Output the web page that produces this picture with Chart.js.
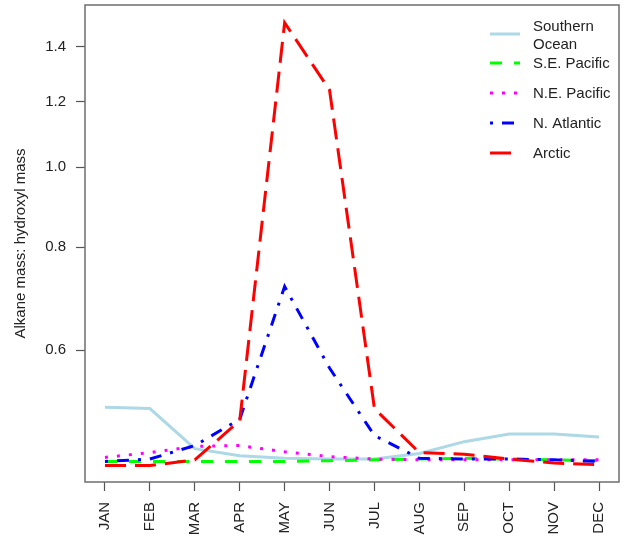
<!DOCTYPE html>
<html>
<head>
<meta charset="utf-8">
<script src="https://cdn.jsdelivr.net/npm/chart.js@4/dist/chart.umd.min.js"></script>
<style>
  body { margin: 0; background: #fff; }
  canvas { display: block; }
</style>
</head>
<body>
<canvas id="chart" width="624" height="539"></canvas>
<script>
var months = ["JAN", "FEB", "MAR", "APR", "MAY", "JUN", "JUL", "AUG", "SEP", "OCT", "NOV", "DEC"];
var southernOcean = [0.512, 0.510, 0.456, 0.447, 0.444, 0.443, 0.443, 0.450, 0.465, 0.475, 0.475, 0.471];
var sePacific = [0.440, 0.440, 0.440, 0.440, 0.440, 0.441, 0.442, 0.443, 0.444, 0.443, 0.442, 0.441];
var nePacific = [0.445, 0.451, 0.459, 0.460, 0.452, 0.446, 0.443, 0.442, 0.442, 0.442, 0.442, 0.442];
var nAtlantic = [0.440, 0.443, 0.460, 0.495, 0.717, 0.571, 0.473, 0.444, 0.443, 0.443, 0.442, 0.440];
var arctic = [0.435, 0.435, 0.442, 0.493, 1.497, 1.241, 0.510, 0.451, 0.449, 0.443, 0.438, 0.436];
var yTicks = [0.6, 0.8, 1.0, 1.2, 1.4];

var FONT = "'Liberation Sans', Arial, sans-serif";

function pts(arr) {
  return arr.map(function (v, i) { return { x: i, y: v }; });
}

// legend entries: label lines, colour, dash
var series = [
  { label: ["Southern", "Ocean"], data: southernOcean, color: "#add8e6", dash: [] },
  { label: ["S.E. Pacific"], data: sePacific, color: "#00ff00", dash: [12, 12] },
  { label: ["N.E. Pacific"], data: nePacific, color: "#ff00ff", dash: [3, 9] },
  { label: ["N. Atlantic"], data: nAtlantic, color: "#0000ff", dash: [3, 9, 12, 9] },
  { label: ["Arctic"], data: arctic, color: "#ff0000", dash: [21, 9] }
];

function noPad(scale) {
  scale.paddingTop = 0;
  scale.paddingBottom = 0;
  scale.paddingLeft = 0;
  scale.paddingRight = 0;
}

var boxPlugin = {
  id: "box",
  afterDraw: function (chart) {
    var ctx = chart.ctx, a = chart.chartArea;
    ctx.save();
    ctx.strokeStyle = "#6e6e6e";
    ctx.lineWidth = 1.5;
    ctx.setLineDash([]);
    ctx.strokeRect(a.left, a.top, a.right - a.left, a.bottom - a.top);

    // legend in top-right corner
    var rows = [34, 63, 93, 123, 153];
    ctx.font = "15px " + FONT;
    ctx.textBaseline = "middle";
    ctx.fillStyle = "#222";
    series.forEach(function (s, i) {
      var y = rows[i];
      ctx.strokeStyle = s.color;
      ctx.lineWidth = 3;
      ctx.lineCap = "butt";
      ctx.setLineDash(s.dash);
      ctx.beginPath();
      ctx.moveTo(490, y);
      ctx.lineTo(520, y);
      ctx.stroke();
      if (s.label.length === 2) {
        ctx.fillText(s.label[0], 533, y - 7);
        ctx.fillText(s.label[1], 533, y + 11);
      } else {
        ctx.fillText(s.label[0], 533, y + 1);
      }
    });
    ctx.restore();
  }
};

new Chart(document.getElementById("chart"), {
  type: "line",
  data: {
    datasets: series.map(function (s, i) {
      return {
        label: s.label.join(" "),
        data: pts(s.data),
        borderColor: s.color,
        borderWidth: 3,
        borderDash: s.dash,
        borderCapStyle: "butt",
        pointRadius: 0,
        tension: 0,
        fill: false,
        order: series.length - i
      };
    })
  },
  options: {
    responsive: false,
    animation: false,
    layout: { padding: { top: 5, right: 5, left: 0, bottom: 0 } },
    plugins: { legend: { display: false }, tooltip: { enabled: false } },
    scales: {
      x: {
        type: "linear",
        min: -0.445,
        max: 11.445,
        afterBuildTicks: function (scale) {
          scale.ticks = months.map(function (m, i) { return { value: i }; });
        },
        afterFit: function (scale) { scale.height = 57; noPad(scale); },
        border: { display: false },
        grid: { drawOnChartArea: false, drawTicks: true, tickLength: 9, tickColor: "#555", tickWidth: 1.2 },
        ticks: {
          autoSkip: false,
          minRotation: 90,
          maxRotation: 90,
          padding: 11,
          color: "#222",
          font: { family: FONT, size: 15 },
          callback: function (v) { return months[v]; }
        }
      },
      y: {
        type: "logarithmic",
        min: 0.4155,
        max: 1.573,
        afterBuildTicks: function (scale) {
          scale.ticks = yTicks.map(function (v) { return { value: v }; });
        },
        afterFit: function (scale) { scale.width = 85; noPad(scale); },
        border: { display: false },
        grid: { drawOnChartArea: false, drawTicks: true, tickLength: 9, tickColor: "#555", tickWidth: 1.2 },
        ticks: {
          padding: 10,
          color: "#222",
          font: { family: FONT, size: 15 },
          callback: function (v) { return Number(v).toFixed(1); }
        },
        title: {
          display: true,
          text: "Alkane mass: hydroxyl mass",
          color: "#222",
          font: { family: FONT, size: 15 },
          padding: { top: 12, bottom: 4 }
        }
      }
    }
  },
  plugins: [boxPlugin]
});
</script>
</body>
</html>
